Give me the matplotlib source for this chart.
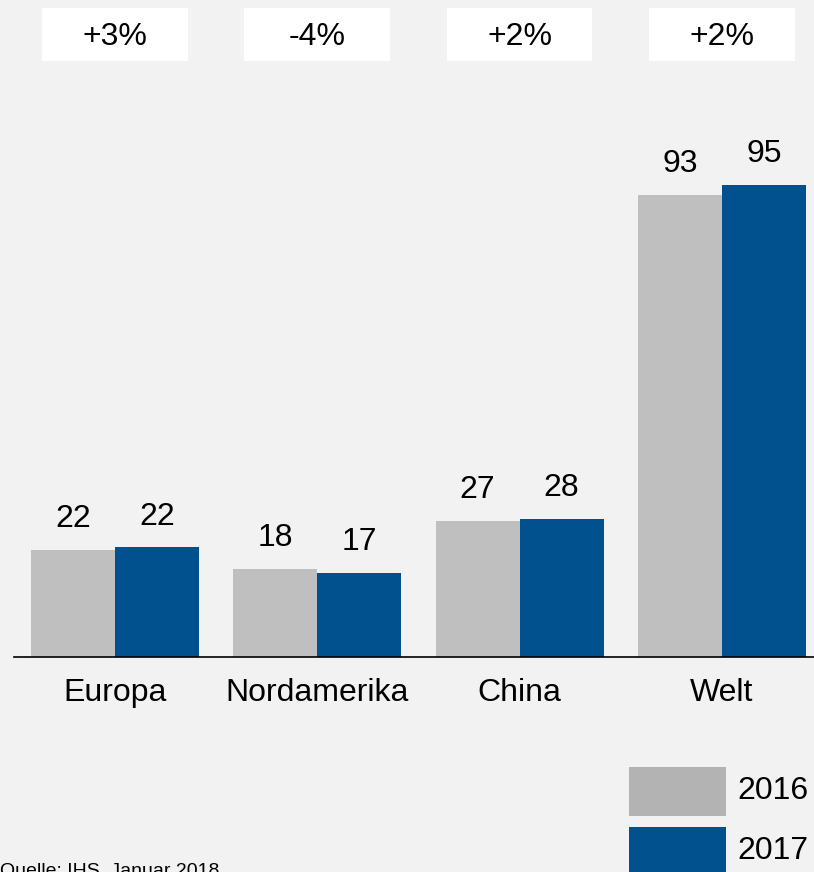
import matplotlib.pyplot as plt
import matplotlib.transforms as mtransforms
from matplotlib.patches import Rectangle
import numpy as np

plt.rcParams['font.family'] = ['Liberation Sans', 'DejaVu Sans']

# Daten
regionen = ['Europa', 'Nordamerika', 'China', 'Welt']
werte_2016 = [21.6, 17.7, 27.4, 93.0]
werte_2017 = [22.1, 16.9, 27.8, 95.0]
labels_2016 = ['22', '18', '27', '93']
labels_2017 = ['22', '17', '28', '95']
veraenderung = ['+3%', '-4%', '+2%', '+2%']
jahre = ['2016', '2017']

bg = '#f2f2f2'
grau = '#bfbfbf'
grau_leg = '#b3b3b3'
blau = '#01518f'
fs = 23

W, H = 814, 872
fig = plt.figure(figsize=(W / 100, H / 100), dpi=100, facecolor=bg)
ax = fig.add_axes([14 / W, (H - 657) / H, 800 / W, 497 / H])
ax.set_facecolor(bg)

x = np.arange(len(regionen))
bw = 0.415
ax.bar(x - bw / 2, werte_2016, width=bw, color=grau)
ax.bar(x + bw / 2, werte_2017, width=bw, color=blau)

for i in range(len(regionen)):
    ax.annotate(labels_2016[i], (x[i] - bw / 2, werte_2016[i]), xytext=(0, 22),
                textcoords='offset points', ha='center', va='center', fontsize=fs)
    ax.annotate(labels_2017[i], (x[i] + bw / 2, werte_2017[i]), xytext=(0, 22),
                textcoords='offset points', ha='center', va='center', fontsize=fs)

ax.set_xlim(-0.499, 3.455)
ax.set_ylim(0, 100)
ax.set_yticks([])
ax.set_xticks(x)
ax.set_xticklabels(regionen, fontsize=fs)
ax.tick_params(axis='x', length=0, pad=15)
for s in ['top', 'right', 'left']:
    ax.spines[s].set_visible(False)
ax.spines['bottom'].set_linewidth(1.2)

# Kästen mit Veränderung oben
trans = mtransforms.blended_transform_factory(ax.transData, fig.transFigure)
box_w = 0.72
for i, t in enumerate(veraenderung):
    ax.add_patch(Rectangle((x[i] - box_w / 2, 1 - 61 / H), box_w, 53 / H,
                           transform=trans, facecolor='white', edgecolor='none', clip_on=False))
    ax.text(x[i], 1 - 37 / H, t, transform=trans, ha='center', va='center', fontsize=fs)

# Legende
for j, (farbe, jahr) in enumerate(zip([grau_leg, blau], jahre)):
    y0 = 767 + j * 60
    fig.patches.append(Rectangle((629 / W, 1 - (y0 + 49) / H), 97 / W, 49 / H,
                                 transform=fig.transFigure, facecolor=farbe, edgecolor='none'))
    fig.text(737 / W, 1 - (y0 + 24) / H, jahr, ha='left', va='center', fontsize=fs)

fig.text(0, 1 - 863 / H, 'Quelle: IHS, Januar 2018', ha='left', va='top', fontsize=14)

fig.savefig('out.png', dpi=100, facecolor=bg)
